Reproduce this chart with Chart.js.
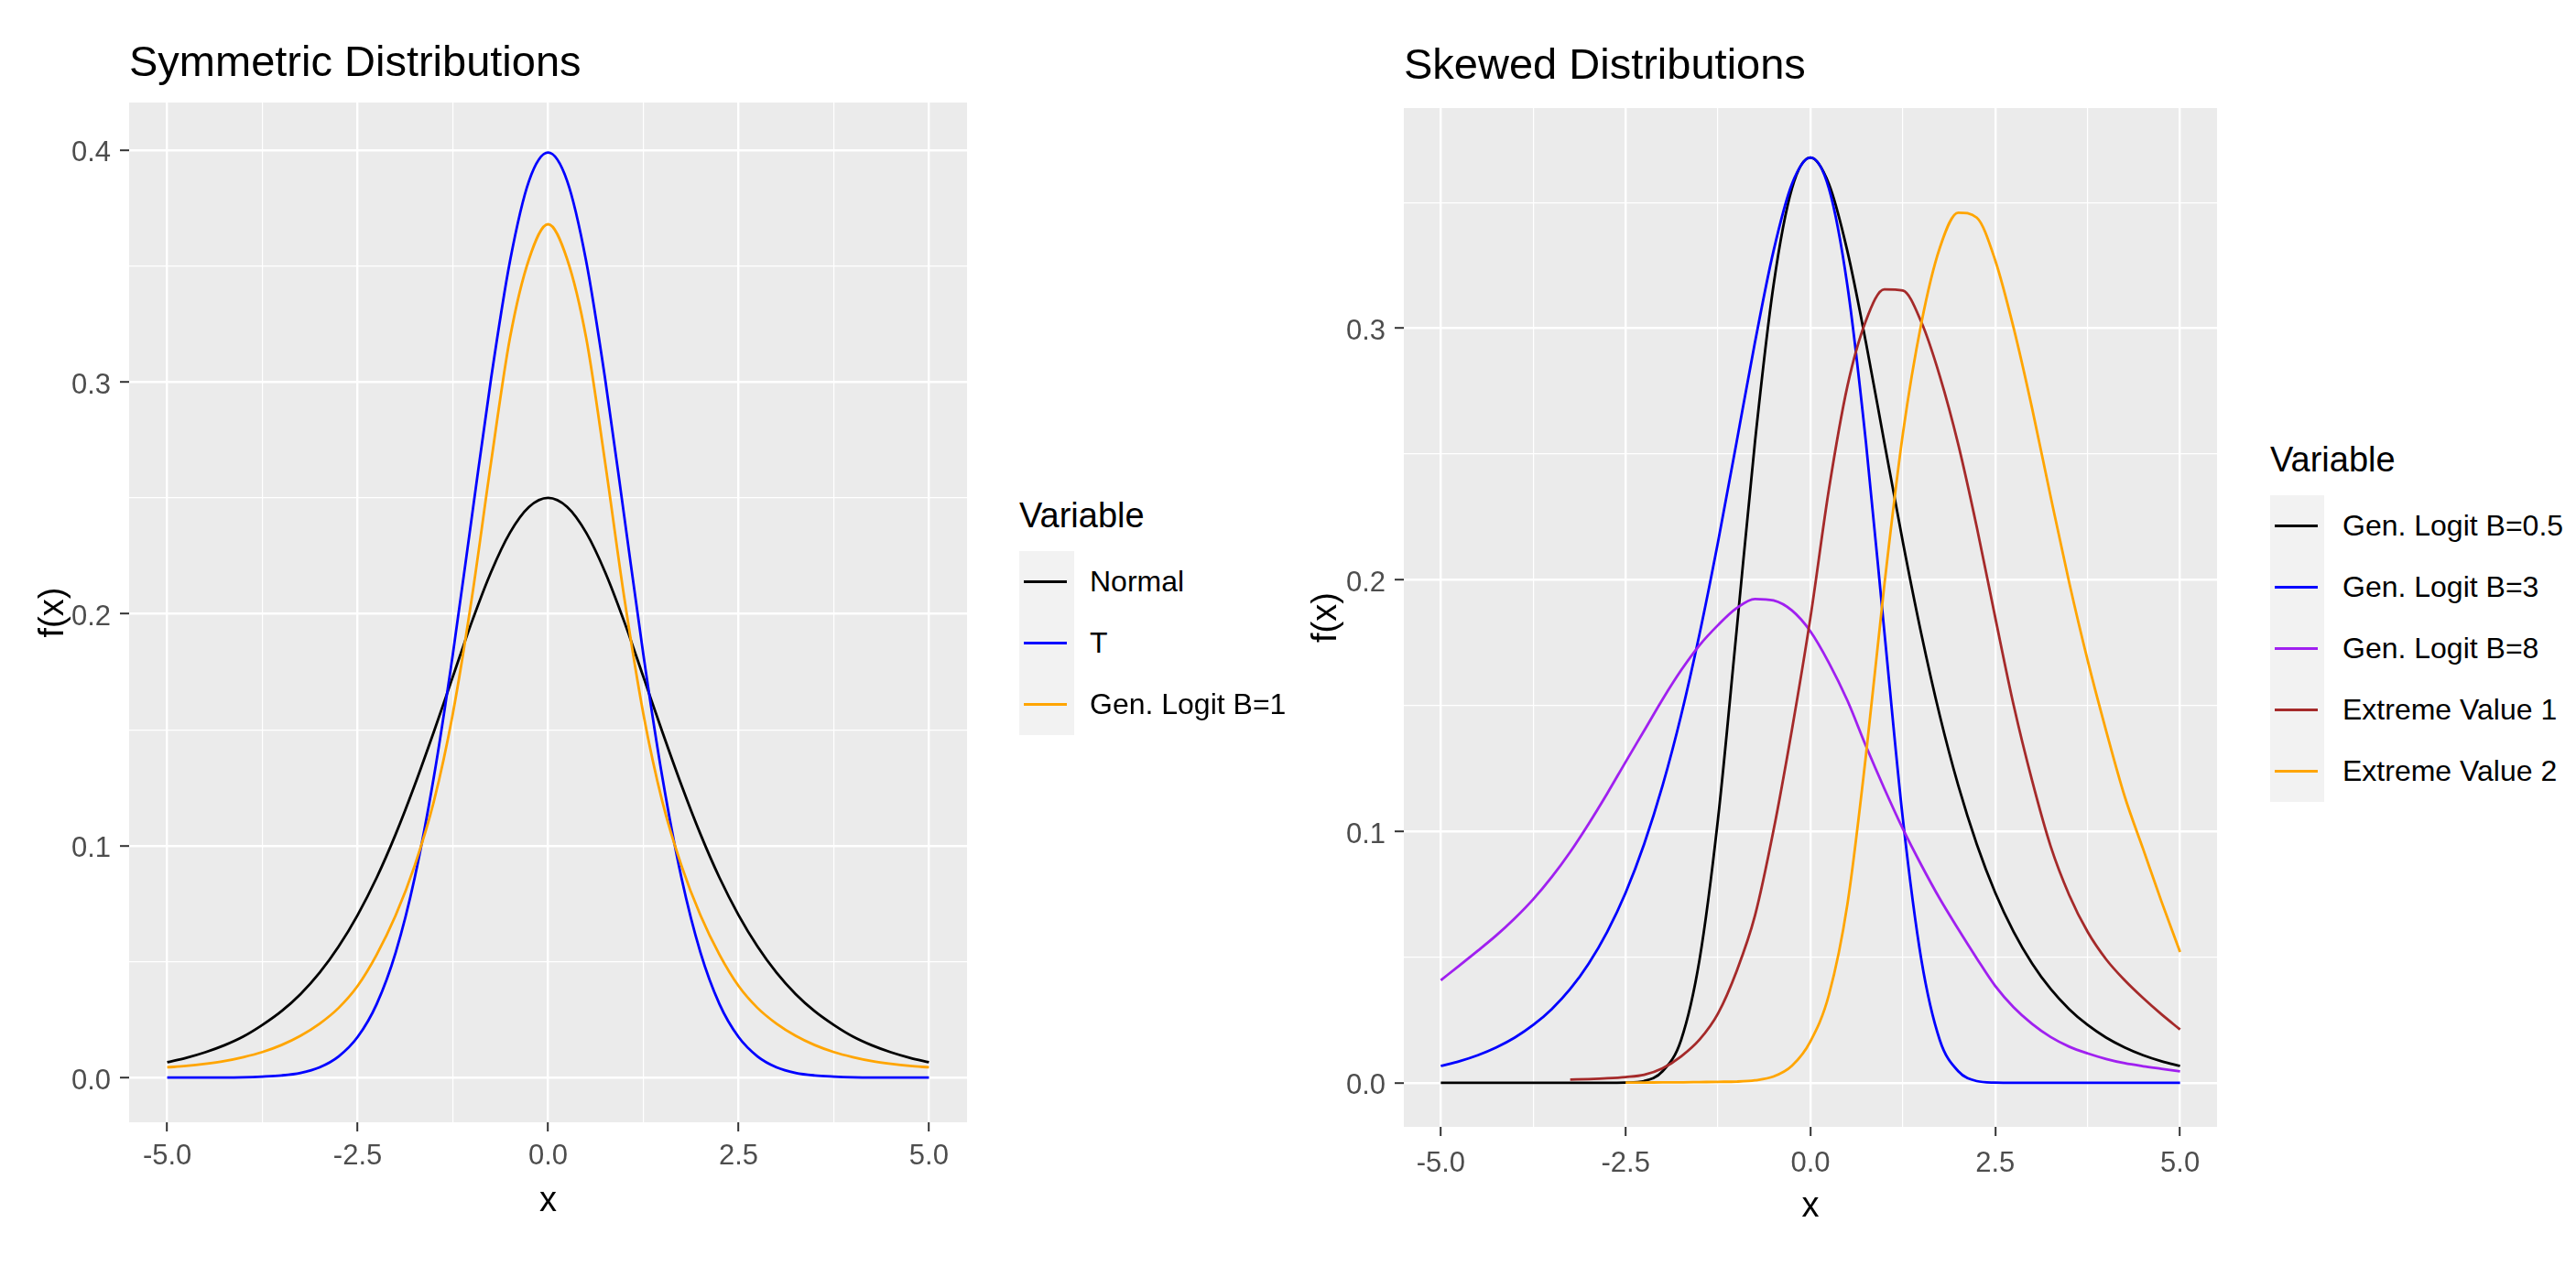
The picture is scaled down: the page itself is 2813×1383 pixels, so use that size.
<!DOCTYPE html>
<html>
<head>
<meta charset="utf-8">
<title>Symmetric and Skewed Distributions</title>
<script src="https://cdn.jsdelivr.net/npm/chart.js@4.4.1/dist/chart.umd.min.js"></script>
<style>
    body {
        margin: 0;
        width: 2813px;
        height: 1383px;
        overflow: hidden;
        position: relative;
        background: #ffffff;
        font-family: 'Liberation Sans', Arial, sans-serif;
    }
    .painel { position: absolute; top: 0; }
    .legenda { position: absolute; }
    .legenda-titulo {
        position: absolute; left: 0; top: -64px;
        height: 50px; line-height: 50px;
        font-size: 38px; color: #000; white-space: nowrap;
    }
    .legenda-fundo { position: absolute; left: 0; top: 0; background: #F2F2F2; }
    .legenda-linha { position: absolute; left: 5px; width: 47px; height: 3px; margin-top: -1px; }
    .legenda-nome {
        position: absolute; height: 67px; line-height: 67px;
        font-size: 32px; color: #000; white-space: nowrap;
    }
</style>
</head>
<body>
<div class="painel" style="left:0px"><canvas id="graficoSimetrico" width="1075" height="1383"></canvas></div>
<div class="painel" style="left:1400px"><canvas id="graficoAssimetrico" width="1040" height="1383"></canvas></div>
<div id="legendaSimetrico" class="legenda"></div>
<div id="legendaAssimetrico" class="legenda"></div>

<script>
// Valores
const xValores = [-5, -4.75, -4.5, -4.25, -4, -3.75, -3.5, -3.25, -3, -2.75, -2.5, -2.25, -2, -1.75, -1.5, -1.25, -1, -0.75, -0.5, -0.25,
    0, 0.25, 0.5, 0.75, 1, 1.25, 1.5, 1.75, 2, 2.25, 2.5, 2.75, 3, 3.25, 3.5, 3.75, 4, 4.25, 4.5, 4.75, 5];

// Symmetric Distributions
const normalValores = [0.0066, 0.0085, 0.0109, 0.0139, 0.0177, 0.0227, 0.0286, 0.0360, 0.0452, 0.0565, 0.0701, 0.0862, 0.1050, 0.1262, 0.1491, 0.1729, 0.1966, 0.2179, 0.2350, 0.2461,
    0.2500, 0.2461, 0.2350, 0.2179, 0.1966, 0.1729, 0.1491, 0.1262, 0.1050, 0.0862, 0.0701, 0.0565, 0.0452, 0.0360, 0.0286, 0.0227, 0.0177, 0.0139, 0.0109, 0.0085, 0.0066];
const tValores = [0, 0, 0, 0, 0.0001, 0.0004, 0.0009, 0.0020, 0.0044, 0.0091, 0.0175, 0.0317, 0.0540, 0.0863, 0.1295, 0.1826, 0.2420, 0.3011, 0.3521, 0.3867,
    0.3989, 0.3867, 0.3521, 0.3011, 0.2420, 0.1826, 0.1295, 0.0863, 0.0540, 0.0317, 0.0175, 0.0091, 0.0044, 0.0020, 0.0009, 0.0004, 0.0001, 0, 0, 0, 0];
const genLogit1Valores = [0.0044, 0.0050, 0.0059, 0.0071, 0.0088, 0.0110, 0.0140, 0.0180, 0.0232, 0.0300, 0.0395, 0.0530, 0.0700, 0.0915, 0.1190, 0.1570, 0.2070, 0.2650, 0.3190, 0.3530,
    0.3680, 0.3530, 0.3190, 0.2650, 0.2070, 0.1570, 0.1190, 0.0915, 0.0700, 0.0530, 0.0395, 0.0300, 0.0232, 0.0180, 0.0140, 0.0110, 0.0088, 0.0071, 0.0059, 0.0050, 0.0044];

// Skewed Distributions
const genLogit05Valores = [0, 0, 0, 0, 0, 0, 0, 0, 0, 0, 0.0001, 0.0007, 0.0046, 0.0170, 0.0490, 0.1050, 0.1794, 0.2549, 0.3170, 0.3556,
    0.3679, 0.3574, 0.3307, 0.2945, 0.2546, 0.2151, 0.1785, 0.1460, 0.1182, 0.0949, 0.0756, 0.0600, 0.0474, 0.0373, 0.0293, 0.0230, 0.0180, 0.0141, 0.0110, 0.0086, 0.0067];
const genLogit3Valores = [0.0067, 0.0086, 0.0110, 0.0141, 0.0180, 0.0230, 0.0293, 0.0373, 0.0474, 0.0600, 0.0756, 0.0949, 0.1182, 0.1460, 0.1785, 0.2151, 0.2546, 0.2945, 0.3307, 0.3574,
    0.3679, 0.3556, 0.3170, 0.2549, 0.1794, 0.1050, 0.0490, 0.0170, 0.0046, 0.0007, 0.0001, 0, 0, 0, 0, 0, 0, 0, 0, 0, 0];
const genLogit8Valores = [0.0408, 0.0466, 0.0525, 0.0586, 0.0654, 0.0730, 0.0818, 0.0918, 0.1030, 0.1150, 0.1276, 0.1400, 0.1525, 0.1640, 0.1740, 0.1820, 0.1887, 0.1924, 0.1918, 0.1878,
    0.1795, 0.1670, 0.1520, 0.1340, 0.1170, 0.1010, 0.0866, 0.0732, 0.0611, 0.0495, 0.0385, 0.0300, 0.0234, 0.0182, 0.0144, 0.0117, 0.0095, 0.0078, 0.0066, 0.0056, 0.0046];
const extremo1Valores = [null, null, null, null, null, null, null, 0.0013, 0.0015, 0.0018, 0.0023, 0.0032, 0.0058, 0.0105, 0.0172, 0.0276, 0.0443, 0.0665, 0.1003, 0.1405,
    0.1850, 0.2360, 0.2770, 0.3030, 0.3155, 0.3150, 0.3025, 0.2810, 0.2538, 0.2210, 0.1850, 0.1500, 0.1200, 0.0940, 0.0747, 0.0600, 0.0491, 0.0408, 0.0337, 0.0272, 0.0212];
const extremo2Valores = [null, null, null, null, null, null, null, null, null, null, 0.0001, 0.0001, 0.0002, 0.0002, 0.0003, 0.0004, 0.0005, 0.0010, 0.0025, 0.0068,
    0.0165, 0.0350, 0.0710, 0.1300, 0.1980, 0.2580, 0.3020, 0.3320, 0.3460, 0.3440, 0.3270, 0.3000, 0.2680, 0.2330, 0.1990, 0.1680, 0.1400, 0.1140, 0.0930, 0.0720, 0.0520];

// Rotulos e cores
const nomesSimetrico = ['Normal', 'T', 'Gen. Logit B=1'];
const coresSimetrico = ['#000000', '#0000FF', '#FFA500'];
const nomesAssimetrico = ['Gen. Logit B=0.5', 'Gen. Logit B=3', 'Gen. Logit B=8', 'Extreme Value 1', 'Extreme Value 2'];
const coresAssimetrico = ['#000000', '#0000FF', '#A020F0', '#A52A2A', '#FFA500'];

// Marcas dos eixos
const xTicksPrincipais = [-5, -2.5, 0, 2.5, 5];
const xTicksSecundarios = [-3.75, -1.25, 1.25, 3.75];
const yTicksSimetrico = [0, 0.1, 0.2, 0.3, 0.4];
const yTicksSimetricoSec = [0.05, 0.15, 0.25, 0.35];
const yTicksAssimetrico = [0, 0.1, 0.2, 0.3];
const yTicksAssimetricoSec = [0.05, 0.15, 0.25, 0.35];

document.addEventListener("DOMContentLoaded", () => {
    Chart.defaults.font.family = "'Liberation Sans', Arial, sans-serif";

    gerarGrafico('graficoSimetrico', {
        titulo: 'Symmetric Distributions',
        series: [normalValores, tValores, genLogit1Valores],
        nomes: nomesSimetrico,
        cores: coresSimetrico,
        yMin: -0.0193, yMax: 0.4205,
        yPrincipais: yTicksSimetrico, ySecundarios: yTicksSimetricoSec,
        larguraEixoY: 141, alturaEixoX: 157, margemDireita: 19,
        tituloTopo: 42, tituloBase: 13.6,
        yTituloPad: 36, xTituloPad: 48, xTickPad: 9
    });

    gerarGrafico('graficoAssimetrico', {
        titulo: 'Skewed Distributions',
        series: [genLogit05Valores, genLogit3Valores, genLogit8Valores, extremo1Valores, extremo2Valores],
        nomes: nomesAssimetrico,
        cores: coresAssimetrico,
        yMin: -0.0175, yMax: 0.3876,
        yPrincipais: yTicksAssimetrico, ySecundarios: yTicksAssimetricoSec,
        larguraEixoY: 133, alturaEixoX: 152, margemDireita: 19,
        tituloTopo: 45, tituloBase: 16.6,
        yTituloPad: 26, xTituloPad: 42, xTickPad: 12
    });

    gerarLegenda('legendaSimetrico', 1113, 602, 60, 77, nomesSimetrico, coresSimetrico);
    gerarLegenda('legendaAssimetrico', 2479, 541, 59, 79, nomesAssimetrico, coresAssimetrico);
});

// fundo cinza do painel
const fundoPainel = {
    id: 'fundoPainel',
    beforeDraw(chart) {
        const { ctx, chartArea } = chart;
        ctx.save();
        ctx.fillStyle = '#EBEBEB';
        ctx.fillRect(chartArea.left, chartArea.top, chartArea.right - chartArea.left, chartArea.bottom - chartArea.top);
        ctx.restore();
    }
};

function ehPrincipal(valor, principais) {
    return principais.some(p => Math.abs(p - valor) < 1e-9);
}

function opcoesEixo(principais, secundarios, min, max) {
    return {
        type: 'linear',
        min: min,
        max: max,
        border: { display: false },
        afterBuildTicks: scale => {
            scale.ticks = principais.concat(secundarios).sort((a, b) => a - b).map(v => ({ value: v }));
        },
        grid: {
            color: '#FFFFFF',
            lineWidth: ctx => ehPrincipal(ctx.tick.value, principais) ? 2.4 : 1.2,
            tickColor: ctx => ehPrincipal(ctx.tick.value, principais) ? '#333333' : 'rgba(0,0,0,0)',
            tickWidth: 2,
            tickLength: 10,
            drawTicks: true
        },
        ticks: {
            autoSkip: false,
            maxRotation: 0,
            color: '#4D4D4D',
            font: { size: 31 },
            callback: valor => ehPrincipal(valor, principais) ? valor.toFixed(1) : ''
        }
    };
}

function gerarGrafico(canvasId, cfg) {
    const datasets = cfg.series.map((valores, i) => ({
        label: cfg.nomes[i],
        data: xValores.map((x, j) => ({ x: x, y: valores[j] })),
        borderColor: cfg.cores[i],
        borderWidth: 2.8,
        pointRadius: 0,
        fill: false,
        spanGaps: false,
        cubicInterpolationMode: 'monotone',
        order: cfg.series.length - i // ultima serie por cima, como no ggplot
    }));

    const eixoX = opcoesEixo(xTicksPrincipais, xTicksSecundarios, -5.5, 5.5);
    eixoX.afterFit = scale => { scale.height = cfg.alturaEixoX; };
    eixoX.ticks.padding = cfg.xTickPad;
    eixoX.title = { display: true, text: 'x', color: '#000000', font: { size: 38 }, padding: { top: 0, bottom: cfg.xTituloPad } };

    const eixoY = opcoesEixo(cfg.yPrincipais, cfg.ySecundarios, cfg.yMin, cfg.yMax);
    eixoY.afterFit = scale => { scale.width = cfg.larguraEixoY; };
    eixoY.ticks.padding = 10;
    eixoY.ticks.labelOffset = 4;
    eixoY.title = { display: true, text: 'f(x)', color: '#000000', font: { size: 38 }, padding: { top: cfg.yTituloPad, bottom: 0 } };

    const ctx = document.getElementById(canvasId).getContext('2d');
    new Chart(ctx, {
        type: 'line',
        data: { datasets: datasets },
        options: {
            responsive: false,
            animation: false,
            events: [],
            layout: { padding: { left: 0, right: cfg.margemDireita, top: 0, bottom: 0 } },
            scales: { x: eixoX, y: eixoY },
            plugins: {
                legend: { display: false },
                tooltip: { enabled: false },
                title: {
                    display: true,
                    text: cfg.titulo,
                    align: 'start',
                    fullSize: false,
                    color: '#000000',
                    font: { size: 47, weight: 'normal' },
                    padding: { top: cfg.tituloTopo, bottom: cfg.tituloBase }
                }
            }
        },
        plugins: [fundoPainel]
    });
}

function gerarLegenda(id, esquerda, topo, larguraChave, posTexto, nomes, cores) {
    const caixa = document.getElementById(id);
    caixa.style.left = esquerda + 'px';
    caixa.style.top = topo + 'px';
    caixa.innerHTML = '';

    const titulo = document.createElement('div');
    titulo.className = 'legenda-titulo';
    titulo.textContent = 'Variable';
    caixa.appendChild(titulo);

    const fundo = document.createElement('div');
    fundo.className = 'legenda-fundo';
    fundo.style.width = larguraChave + 'px';
    fundo.style.height = (nomes.length * 67) + 'px';
    caixa.appendChild(fundo);

    nomes.forEach((nome, i) => {
        const linha = document.createElement('div');
        linha.className = 'legenda-linha';
        linha.style.top = (i * 67 + 33) + 'px';
        linha.style.backgroundColor = cores[i];
        caixa.appendChild(linha);

        const texto = document.createElement('span');
        texto.className = 'legenda-nome';
        texto.style.top = (i * 67) + 'px';
        texto.style.left = posTexto + 'px';
        texto.textContent = nome;
        caixa.appendChild(texto);
    });
}
</script>
</body>
</html>
